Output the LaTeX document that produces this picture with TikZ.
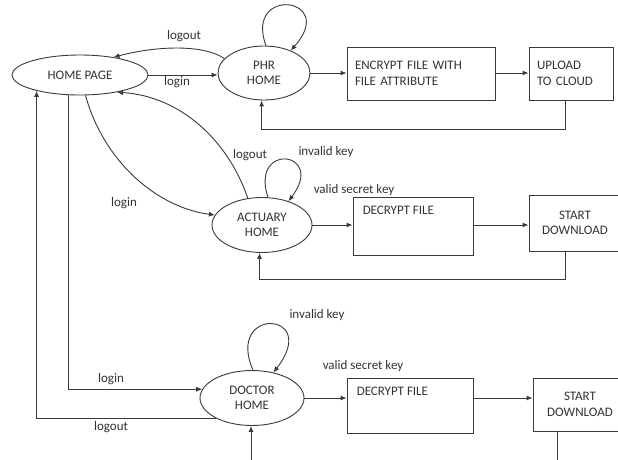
\documentclass[tikz,border=0pt]{standalone}
\usepackage{fontspec}
\setmainfont{Carlito}
\usetikzlibrary{shapes.geometric,arrows.meta,calc}
\definecolor{ln}{HTML}{3A3A3A}
\definecolor{tx}{HTML}{333333}
\begin{document}
\begin{tikzpicture}[x=1pt,y=-1pt,
  font=\fontsize{13}{15.5}\selectfont, text=tx,
  st/.style={ellipse,draw=ln,line width=0.9pt,inner sep=0pt,align=center},
  bx/.style={rectangle,draw=ln,line width=0.9pt,inner sep=0pt},
  arr/.style={draw=ln,line width=0.9pt,-{Latex[length=6pt,width=5pt]}},
  ln/.style={draw=ln,line width=0.9pt},
  lab/.style={inner sep=0pt}]
\useasboundingbox (0,0) rectangle (618,459);
\fill[white] (0,0) rectangle (618,459);
\clip (0,0) rectangle (618,459);
% states
\node[st,minimum width=136pt,minimum height=40pt] (home) at (80,75) {HOME PAGE};
\node[st,minimum width=92pt,minimum height=54pt] (phr) at (264,73) {PHR\\HOME};
\node[st,minimum width=100pt,minimum height=55pt] (act) at (262,225) {ACTUARY\\HOME};
\node[st,minimum width=104pt,minimum height=55pt] (doc) at (252,398) {DOCTOR\\HOME};
% boxes
\node[bx,minimum width=148pt,minimum height=53pt,text width=132pt,align=left] (enc) at (421,73.5) {ENCRYPT FILE WITH\\FILE ATTRIBUTE};
\node[bx,minimum width=84pt,minimum height=53pt,text width=68pt,align=left] (up) at (571,73.5) {UPLOAD\\TO CLOUD};
\node[bx,minimum width=120pt,minimum height=58pt,
  label={[lab,anchor=north west,xshift=10pt,yshift=-9pt]north west:DECRYPT FILE}] (dec1) at (413,226) {};
\node[bx,minimum width=92pt,minimum height=56pt,align=center] (st1) at (575,223) {START\\DOWNLOAD};
\node[bx,minimum width=126pt,minimum height=55pt,
  label={[lab,anchor=north west,xshift=10pt,yshift=-9pt]north west:DECRYPT FILE}] (dec2) at (410,405.5) {};
\node[bx,minimum width=94pt,minimum height=53pt,align=center] (st2) at (580,404.5) {START\\DOWNLOAD};
% PHR connections
\draw[arr] (home.east) -- (phr.west |- home.east);
\draw[arr] (phr.160) .. controls (205,45) and (160,45) .. (home.28);
\draw[arr] (phr.86) .. controls +(-22,-60) and +(48,-54) .. (phr.40);
\draw[arr] (phr.east) -- (phr.east -| enc.west);
\draw[arr] (enc.east |- phr.east) -- (up.west |- phr.east);
\draw[arr] ($(up.south)+(-6,0)$) -- ++(0,29) -| (phr.265);
% Actuary connections
\draw[arr] (home.285) .. controls (105,165) and (160,208) .. (act.168);
\draw[arr] (act.118) .. controls (228,140) and (180,96) .. (home.-25);
\draw[arr] (act.78) .. controls +(-18,-56) and +(38,-50) .. (act.42);
\draw[arr] (act.east) -- (act.east -| dec1.west);
\draw[arr] (dec1.east |- act.east) -- (st1.west |- act.east);
\draw[arr] ($(st1.south)+(-10,0)$) -- ++(0,28) -| (act.265);
% Doctor connections
\draw[arr] (home.241) |- (doc.170);
\draw[arr] (doc.209) -| (home.200);
\draw[arr] (doc.88) .. controls +(-28,-64) and +(48,-62) .. (doc.50);
\draw[arr] (doc.east) -- (doc.east -| dec2.west);
\draw[arr] (dec2.east |- doc.east) -- (st2.west |- doc.east);
\draw[arr] ($(st2.south)+(-23,0)$) -- ++(0,60) -| (doc.268);
% labels
\node[lab] (l1) at (184,36) {logout};
\node[lab] (l2) at (177,82) {login};
\node[lab] (l3) at (250,155) {logout};
\node[lab] (l4) at (326,152) {invalid key};
\node[lab] (l5) at (354,190) {valid secret key};
\node[lab] (l6) at (124,203) {login};
\node[lab] (l7) at (317,315) {invalid key};
\node[lab] (l8) at (363,366) {valid secret key};
\node[lab] (l9) at (111,379) {login};
\node[lab] (l10) at (111,427) {logout};
\end{tikzpicture}
\end{document}
